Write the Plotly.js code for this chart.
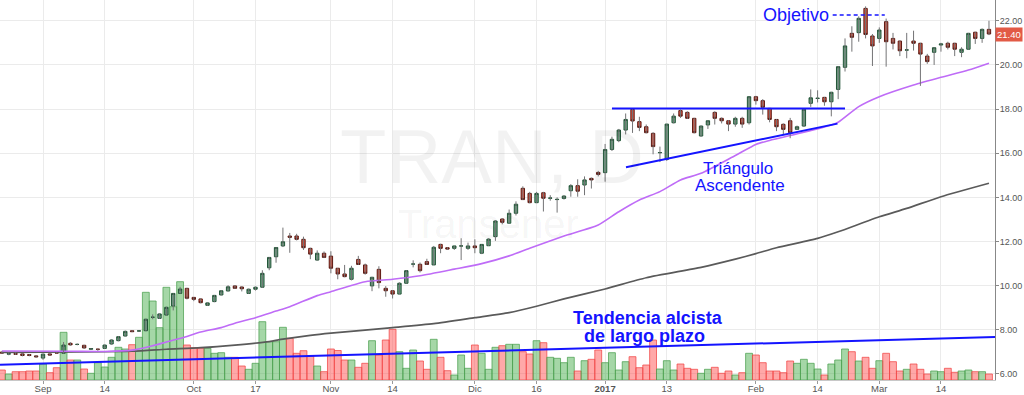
<!DOCTYPE html>
<html><head><meta charset="utf-8">
<script src="https://cdn.plot.ly/plotly-3.0.1.min.js"></script>
<style>html,body{margin:0;padding:0;background:#fff}#chart{width:1024px;height:395px}</style>
</head><body><div id="chart"></div>
<script>
// ---- daily bars (TRAN, D) ----
const open = [6.99,6.90,6.92,6.91,6.88,6.82,6.72,6.91,6.97,6.94,7.39,7.34,7.30,7.12,7.12,7.16,7.36,7.51,7.72,7.96,
7.95,7.96,8.57,8.52,8.67,9.08,9.65,9.88,9.47,9.40,9.11,9.28,9.58,9.76,9.99,9.94,9.65,9.84,9.93,10.81,
11.31,11.80,12.25,12.25,12.10,11.69,11.16,11.47,11.34,10.79,10.53,10.29,11.19,10.94,9.99,10.74,9.88,9.77,9.62,10.11,
10.98,10.97,11.09,10.94,11.87,11.72,11.69,11.80,11.69,11.80,11.47,11.81,12.22,13.02,12.83,13.28,14.41,14.18,13.76,14.21,
13.96,13.90,13.95,14.30,14.53,14.56,14.86,15.13,15.12,16.17,16.57,17.05,17.99,17.43,17.20,16.90,16.02,15.72,17.38,17.93,
17.85,17.58,16.78,17.28,17.85,17.58,17.47,17.32,17.58,17.38,18.56,18.38,18.03,17.53,17.31,17.47,17.08,17.23,18.26,18.48,
18.53,18.33,18.89,19.89,21.43,21.46,22.56,21.31,21.20,21.96,21.20,21.08,20.67,21.08,20.98,20.40,20.57,20.90,20.98,20.98,
20.57,20.71,21.48,21.20,21.61];
const high = [7.02,6.98,6.98,6.93,6.90,6.84,6.92,6.93,6.99,7.45,7.44,7.38,7.32,7.17,7.14,7.33,7.57,7.72,7.97,7.98,
7.97,8.50,8.70,8.74,9.05,9.66,9.95,9.90,9.48,9.42,9.24,9.58,9.80,10.02,10.03,9.97,9.87,9.96,10.70,11.30,
11.75,12.63,12.39,12.35,12.22,11.72,11.60,11.55,11.56,10.80,10.94,10.90,11.35,11.00,10.40,10.88,9.98,9.80,10.15,10.70,
11.15,11.05,11.22,11.80,11.90,11.74,11.80,12.15,11.95,12.10,11.87,12.15,12.97,13.06,13.45,13.82,14.50,14.25,14.25,14.25,
14.10,14.00,14.10,14.60,14.82,14.95,14.90,15.20,16.42,16.75,17.10,17.80,18.00,17.65,17.30,16.95,16.30,17.32,17.80,17.98,
17.90,17.60,17.25,17.50,17.90,17.62,17.50,17.65,17.65,18.56,18.60,18.45,18.05,17.55,17.35,17.60,17.25,18.00,18.89,18.85,
18.55,18.78,19.95,21.20,21.75,22.20,22.65,21.40,21.70,22.10,21.45,21.10,21.45,21.55,21.00,20.50,20.80,21.00,21.05,21.00,
20.80,21.45,21.50,21.65,22.00];
const low = [6.92,6.85,6.86,6.80,6.80,6.74,6.64,6.84,6.93,6.93,7.28,7.30,7.14,7.10,7.05,7.14,7.33,7.48,7.70,7.90,
7.92,7.94,8.48,8.50,8.65,8.88,9.63,9.38,9.30,9.20,9.08,9.25,9.56,9.74,9.85,9.74,9.63,9.78,9.90,10.70,
11.04,11.75,11.49,12.05,11.62,11.20,11.13,11.25,10.56,10.29,10.38,10.24,10.94,10.50,9.75,9.88,9.50,9.42,9.62,10.10,
10.83,10.60,10.94,10.94,11.47,11.62,11.62,11.16,11.62,11.47,11.43,11.80,12.03,12.78,12.83,13.18,13.88,13.73,13.74,13.36,
13.85,13.31,13.90,14.03,14.03,14.10,14.40,14.95,14.71,16.10,16.50,16.85,16.92,17.00,16.90,15.95,15.60,15.65,17.35,17.60,
17.55,16.90,16.75,17.10,17.30,17.35,17.00,17.20,17.15,17.30,18.20,17.75,17.40,17.00,16.85,16.68,17.05,17.20,18.10,18.30,
18.15,17.67,18.45,19.70,20.60,21.05,21.20,19.95,21.00,19.92,20.70,20.40,20.30,20.65,19.05,20.05,20.00,20.60,20.70,20.40,
20.35,20.70,20.95,21.00,21.35];
const close = [6.95,6.92,6.90,6.84,6.84,6.78,6.90,6.86,6.95,7.31,7.32,7.34,7.18,7.15,7.12,7.31,7.54,7.69,7.93,7.92,
7.95,8.48,8.57,8.72,9.02,9.65,9.85,9.43,9.38,9.23,9.22,9.56,9.77,9.95,9.88,9.86,9.84,9.93,10.56,11.28,
11.73,11.99,12.19,12.10,11.72,11.43,11.47,11.28,10.79,10.53,10.41,10.79,10.96,10.56,10.38,10.14,9.77,9.62,10.11,10.68,
10.98,10.68,10.96,11.74,11.69,11.66,11.80,11.80,11.80,11.72,11.87,12.11,12.93,12.87,13.28,13.69,13.90,13.76,14.18,13.96,
13.97,13.91,14.06,14.53,14.28,14.79,14.79,15.04,16.17,16.63,17.05,17.53,17.46,17.17,16.93,16.30,16.03,17.32,17.68,17.68,
17.58,16.93,17.23,17.47,17.58,17.47,17.32,17.58,17.32,18.56,18.38,18.08,17.53,17.20,17.08,16.93,17.20,17.99,18.51,18.49,
18.33,18.76,19.92,20.86,21.25,22.11,21.38,20.86,21.58,21.05,20.98,20.64,20.68,20.98,20.49,20.15,20.78,20.95,20.80,20.71,
20.71,21.43,21.20,21.61,21.40];
const volume = [10,6,8.3,8.3,9,9,16,7.3,12.3,47.7,20,20,11,6.7,17.3,13,22.7,32.7,31,35.3,
42.7,87.7,79,52.3,92.7,73.3,98.3,35,32.3,31.7,31.7,26.7,27.3,22.7,22.7,14,10.7,16.7,58.3,38.3,
38.3,52.7,41.7,26.7,29.3,24,14,8.3,31,29.5,20,20,12.7,16.7,39.3,25,40,50.7,28.3,11.7,
30,19,10.7,40.7,22.7,9.3,5,25,11.7,35,26.7,10.7,32.7,34.3,35.7,35.7,28.3,26,39.3,37.3,
22.7,21.7,17.3,22.7,9,19.3,20.7,30,17.3,27.3,10,18.3,23.3,12.3,15,40,11,19.3,10,16,
11.7,10.7,6.7,10.7,12.7,6.7,9,5,7.3,26.7,25,17.3,9,9,7.3,19,16.7,20.7,16.7,11,
5,16,20,31,28.3,19,22.7,11.7,19.3,26.7,18.3,9,10.7,16,10.7,6,9,8.3,11.7,7.7,
9,10,8.3,8.3,6];

// ---- time axis labels (bar index of each label) ----
const tickIdx  = [6, 15, 28, 37, 48, 57, 69, 78, 88, 97, 110, 119, 128, 137];
const tickText = ['Sep','14','Oct','17','Nov','14','Dic','16','<b>2017</b>','13','Feb','14','Mar','14'];

// ---- moving averages, read at sample bars ----
const maFastIdx = [0,10,15,19,22,24,27,29,32,34,37,40,42,46,48,53,57,61,66,70,74,77,82,87,90,93,96,99,102,107,110,112,117,121,122,125,128,133,137,141,144];
const maFastVal = [7.04,7.03,7.02,7.08,7.28,7.45,7.70,7.90,8.10,8.30,8.55,8.85,9.05,9.55,9.73,10.18,10.29,10.45,10.75,11.00,11.35,11.70,12.25,12.75,13.35,13.88,14.26,14.79,15.09,15.90,16.40,16.58,16.95,17.28,17.40,18.11,18.56,19.09,19.44,19.77,20.08];
const maSlowIdx = [0,19,24,29,34,39,41,45,48,57,63,69,74,78,82,88,94,102,107,110,113,119,122,128,132,137,144];
const maSlowVal = [6.98,7.03,7.12,7.19,7.31,7.47,7.58,7.75,7.85,8.10,8.28,8.55,8.78,9.07,9.40,9.85,10.36,10.83,11.20,11.45,11.72,12.14,12.44,13.12,13.50,14.03,14.64];

// ---- drawn study lines ----
const trendIdx = [-0.27, 144.88], trendVal = [6.42, 7.68];
const triTopIdx = [89.0, 123.0],  triTopVal = [18.02, 18.02];
const triLowIdx = [91.05, 121.9], triLowVal = [15.36, 17.34];
const targetIdx = [121.2, 128.8], targetVal = [22.26, 22.26];

const idx = open.map((_, i) => i);
const bodyHigh = open.map((o, i) => Math.max(o, close[i]));
const bodyLow  = open.map((o, i) => Math.min(o, close[i]));
const wickX = [], wickY = [];
idx.forEach(i => { wickX.push(i, i, null); wickY.push(low[i], high[i], null); });
const isUp = open.map((o, i) => close[i] >= o);
const volFill = isUp.map(u => u ? 'rgba(76,175,80,0.5)' : 'rgba(255,82,82,0.5)');
const volLine = isUp.map(u => u ? 'rgba(76,160,80,0.75)' : 'rgba(240,70,70,0.75)');

const BLUE = '#1414ff';
const FONT = '"Liberation Sans", Arial, sans-serif';

const traces = [
  {type:'bar', x: idx, y: volume, yaxis:'y', width: 1,
   marker:{color: volFill, line:{color: volLine, width: 1}}, hoverinfo:'skip'},
  {type:'scatter', mode:'lines', x: trendIdx, y: trendVal, yaxis:'y2', line:{color: BLUE, width: 2}, hoverinfo:'skip'},
  {type:'scatter', mode:'lines', x: maSlowIdx, y: maSlowVal, yaxis:'y2', line:{color:'#5a5a5a', width: 1.7, shape:'spline', smoothing:0.6}, hoverinfo:'skip'},
  {type:'scatter', mode:'lines', x: maFastIdx, y: maFastVal, yaxis:'y2', line:{color:'#bf6cf7', width: 1.6, shape:'spline', smoothing:0.6}, hoverinfo:'skip'},
  {type:'scatter', mode:'lines', x: wickX, y: wickY, yaxis:'y2', line:{color:'#737375', width: 1}, hoverinfo:'skip', connectgaps:false},
  {type:'candlestick', x: idx, open: open, high: bodyHigh, low: bodyLow, close: close, yaxis:'y2',
   increasing:{line:{color:'#225437', width:1}, fillcolor:'#6ba583'},
   decreasing:{line:{color:'#5b1a13', width:1}, fillcolor:'#d75442'},
   whiskerwidth: 0, hoverinfo:'skip'},
  {type:'scatter', mode:'lines', x: triTopIdx, y: triTopVal, yaxis:'y2', line:{color: BLUE, width: 2}, hoverinfo:'skip'},
  {type:'scatter', mode:'lines', x: triLowIdx, y: triLowVal, yaxis:'y2', line:{color: BLUE, width: 2}, hoverinfo:'skip'},
  {type:'scatter', mode:'lines', x: targetIdx, y: targetVal, yaxis:'y2', line:{color: BLUE, width: 1.5, dash:'4px,3px'}, hoverinfo:'skip'}
];

const last = close[close.length - 1];

const layout = {
  width: 1024, height: 395,
  margin: {l: 0, r: 29, t: 0, b: 15},
  paper_bgcolor: '#ffffff', plot_bgcolor: '#ffffff',
  showlegend: false, hovermode: false, boxgap: 0.3,
  font: {family: FONT, color: '#555555'},
  xaxis: {range: [-0.273, 144.88], tickmode:'array', tickvals: tickIdx, ticktext: tickText,
          showgrid: true, gridcolor: '#ebebeb', gridwidth: 1, zeroline: false,
          ticks: 'outside', ticklen: 3, tickcolor: '#999999', ticklabelstandoff: -3,
          showline: true, linecolor: '#c8c8c8', tickfont: {size: 9.5, color: '#555555', family: FONT},
          rangeslider: {visible: false}, fixedrange: true},
  yaxis: {range: [0, 380], visible: false, showgrid: false, zeroline: false, fixedrange: true},
  yaxis2: {overlaying: 'y', side: 'right', range: [5.728, 22.94], dtick: 2, tick0: 0, tickformat: '.2f',
           showgrid: true, gridcolor: '#ebebeb', zeroline: false,
           ticks: 'outside', ticklen: 3, tickcolor: '#888888', ticklabelstandoff: -1,
           showline: true, linecolor: '#888888', tickfont: {size: 9, color: '#555555', family: FONT}, fixedrange: true},
  annotations: [
    {xref:'paper', yref:'paper', x: 0.494, y: 0.589, text:'TRAN, D', showarrow:false,
     font:{size: 76, color:'rgba(0,0,0,0.05)', family: FONT}},
    {xref:'paper', yref:'paper', x: 0.491, y: 0.41, text:'Transener', showarrow:false,
     font:{size: 40, color:'rgba(0,0,0,0.05)', family: FONT}},
    {xref:'x', yref:'y2', x: 115.9, y: 22.26, text:'Objetivo', showarrow:false,
     font:{size: 18, color: BLUE, family: FONT}},
    {xref:'x', yref:'y2', x: 107.4, y: 15.31, text:'Triángulo', showarrow:false,
     font:{size: 17, color: BLUE, family: FONT}},
    {xref:'x', yref:'y2', x: 107.7, y: 14.56, text:'Ascendente', showarrow:false,
     font:{size: 17, color: BLUE, family: FONT}},
    {xref:'x', yref:'y2', x: 94.3, y: 8.54, text:'<b>Tendencia alcista</b>', showarrow:false,
     font:{size: 18, color: BLUE, family: FONT}},
    {xref:'x', yref:'y2', x: 93.8, y: 7.72, text:'<b>de largo plazo</b>', showarrow:false,
     font:{size: 18, color: BLUE, family: FONT}},
    {xref:'paper', yref:'y2', x: 1, xanchor:'left', y: last, text: last.toFixed(2), showarrow:false,
     bgcolor:'#e25a46', borderpad: 1, font:{size: 9.5, color:'#ffffff', family: FONT}}
  ]
};

Plotly.newPlot('chart', traces, layout, {displayModeBar: false, staticPlot: true});
</script>
</body></html>
